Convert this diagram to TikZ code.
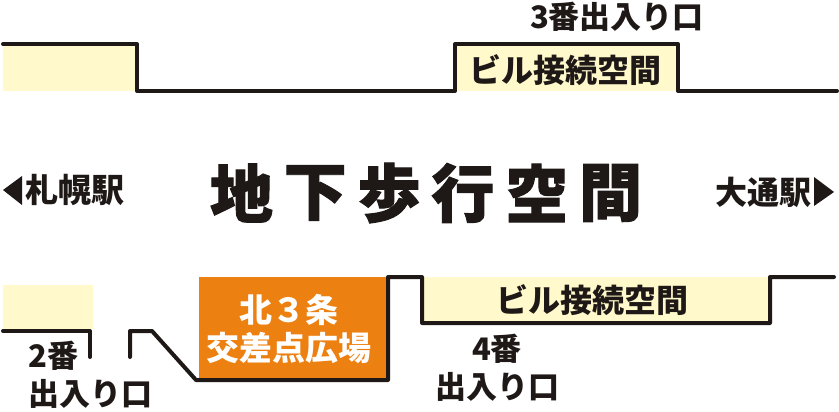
\documentclass[tikz,border=0pt]{standalone}
\usepackage{fontspec}
\setmainfont{Noto Sans CJK JP}

\definecolor{wallblack}{RGB}{30,25,22}
\definecolor{buildyellow}{RGB}{255,249,203}
\definecolor{plazaorange}{RGB}{236,128,16}

\begin{document}
\begin{tikzpicture}[
  x = 1pt, y = -1pt,
  wall/.style = {
    draw = wallblack,
    line width = 4pt,
    line join = round,
    line cap = round
  },
  label/.style = {
    text = wallblack,
    inner sep = 0pt,
    font = \bfseries\fontsize{32}{38}\selectfont
  },
  exitlabel/.style = {
    label,
    align = center,
    font = \bfseries\fontsize{31}{38}\selectfont
  },
  plazalabel/.style = {
    label,
    text = white,
    font = \bfseries\fontsize{33}{38}\selectfont
  },
  titlechar/.style = {
    label,
    font = \fontsize{63}{63}\bfseries\selectfont\addfontfeature{FakeBold=1.5}
  }
  ]

  \useasboundingbox (0,0) rectangle (839,412);

  % building areas
  \fill[buildyellow] (3,46) rectangle (137,91);
  \fill[buildyellow] (455,44) rectangle (678,91);
  \fill[buildyellow] (3,285) rectangle (93,329);
  \fill[buildyellow] (422,277) rectangle (770,323);
  \fill[plazaorange] (199,277) rectangle (388,380);

  % walls
  \draw[wall] (3,44) -- (137,44) -- (137,91) -- (455,91) -- (455,44)
    -- (678,44) -- (678,91) -- (837,91);
  \draw[wall] (3,331) -- (90,331) -- (90,357);
  \draw[wall] (130,357) -- (130,331) -- (152,331) -- (196,380)
    -- (388,380) -- (388,277) -- (422,277) -- (422,323) -- (770,323)
    -- (770,277) -- (834,277);

  % labels
  \node[label, font = \bfseries\fontsize{31}{38}\selectfont] (exit3) at (617,17) {3番出入り口};
  \node[label] (bldgtop) at (565,70) {ビル接続空間};
  \node[label] (bldgbot) at (592,300) {ビル接続空間};

  \node[plazalabel] (kita) at (289,310) {北３条};
  \node[plazalabel] (plaza) at (289,348) {交差点広場};

  \node[exitlabel, align = left, anchor = north west] (exit2) at (28,341) {2番\\出入り口};
  \node[exitlabel, anchor = north] (exit4) at (497,334) {4番\\出入り口};

  % stations
  \fill[wallblack] (3,190) -- (22,176) -- (22,205) -- cycle;
  \node[label, anchor = west, font = \bfseries\fontsize{33}{38}\selectfont] (sapporo) at (25,190) {札幌駅};
  \node[label, anchor = east] (odori) at (812,192) {大通駅};
  \fill[wallblack] (814,177) -- (834,192) -- (814,206) -- cycle;

  % title
  \foreach \ch [count = \i from 0] in {地,下,歩,行,空,間}
    \node[titlechar] (title\i) at (241.5 + 73.8*\i, 193) {\ch};

\end{tikzpicture}
\end{document}
